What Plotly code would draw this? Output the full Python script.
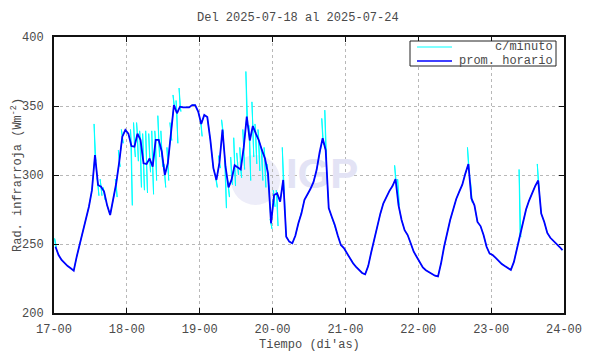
import plotly.graph_objects as go

# ---------------- data ----------------
tick_labels = ["17-00", "18-00", "19-00", "20-00", "21-00", "22-00", "23-00", "24-00"]
y_ticks = [200, 250, 300, 350, 400]

# hourly means (prom. horario), one value per hour from 17-00 to 24-00
hourly_17 = [248, 242, 238.4, 236, 234, 232.4, 230.7, 241, 250.5, 259, 267.4, 277,
             289, 314.5, 292.8, 291.5, 288, 278, 271, 282, 294, 309.7, 327.8, 332.6]
hourly_18 = [330, 321, 320.5, 330, 325.4, 308.5, 308, 312, 306, 325.4, 325.4, 317,
             300, 308.5, 330, 350.7, 344.7, 349.5, 349, 349, 349, 350.7, 350.7, 346]
hourly_19 = [337, 343.5, 342, 325.4, 305, 296.4, 309, 333, 306, 291, 296.6, 307,
             305.6, 304, 320, 342.3, 325, 335.5, 330, 325, 318, 312, 301, 265]
hourly_20 = [285.5, 286.7, 280.7, 296.4, 255.3, 251.7, 250.5, 256, 265, 272, 282, 285.5,
             290, 295, 303.6, 316.5, 326.6, 318, 276, 269.8, 263.8, 256, 249.3, 247]
hourly_21 = [243, 239.5, 236, 233.5, 231.5, 229, 228, 234, 244, 254, 263, 272,
             279.5, 284.5, 288.5, 292, 297, 278, 267.4, 260, 256.5, 250.5, 244.4, 240.6]
hourly_22 = [237, 233, 231, 229.5, 228, 227, 226.5, 236, 248, 259, 267.4, 275,
             282.6, 288, 293, 301, 308, 283, 278, 266, 263, 256.5, 248, 243]
hourly_23 = [242, 240, 237.5, 235.5, 234, 232.5, 231.2, 237, 247, 257, 266.5, 275,
             281.5, 287, 292, 296, 272, 266, 258, 254.5, 252.5, 250, 248, 245.5]

# per-minute excursions (c/minuto): hour index, highest and lowest minute value
spike_hour = [0, 13, 14, 15, 16, 20, 21, 22, 25, 26, 27, 28, 29, 30, 31, 32, 33, 34,
              35, 36, 37, 38, 39, 40, 41, 48, 53, 54, 55, 56, 57, 58, 59, 60, 61, 62,
              63, 64, 65, 66, 67, 68, 69, 70, 71, 72, 73, 75, 88, 89, 112, 113, 136,
              137, 153, 159]
spike_hi = [254, 337, 298, 297, 291, 297, 318, 333, 333, 338, 338, 332, 330, 332, 330,
            332, 332, 343, 332, 308, 320, 338, 358, 354, 363, 340, 298, 314, 340, 311,
            296, 313, 327, 316, 320, 333, 375, 336, 353, 337, 333, 320, 320, 308, 268,
            289, 289, 320, 341, 347, 307, 297, 320, 295, 304, 308]
spike_lo = [248, 310, 285, 285, 282, 284, 306, 323, 278, 313, 310, 291, 289, 287, 302,
            286, 296, 313, 306, 291, 296, 325, 348, 323, 346, 328, 291, 305, 330, 276,
            284, 293, 292, 300, 298, 304, 338, 296, 313, 308, 303, 296, 291, 289, 261,
            277, 263, 290, 322, 312, 293, 278, 303, 280, 255, 290]

hourly_avg = hourly_17 + hourly_18 + hourly_19 + hourly_20 + hourly_21 + hourly_22 + hourly_23

# ---------------- build traces ----------------
hour_pos = [(k + 0.5) / 24.0 for k in range(len(hourly_avg))]  # hour centres, in days
spikes = {h: (hi, lo) for h, hi, lo in zip(spike_hour, spike_hi, spike_lo)}
dx = 0.3 / 24.0

cx, cy = [], []
for k, (xd, v) in enumerate(zip(hour_pos, hourly_avg)):
    cx.append(xd); cy.append(v)
    if k in spikes:
        hi, lo = spikes[k]
        cx += [xd - dx, xd + dx, xd]
        cy += [hi, lo, v]

FONT = "Liberation Mono, Courier New, monospace"
TXT = "#4a4a4a"

fig = go.Figure()

# watermark text (drawn first so the data lies over it)
fig.add_trace(go.Scatter(x=[3.68], y=[298.5], mode="text", text=["<b>IGP</b>"],
                         textfont=dict(family="Liberation Sans, Arial", size=42, color="#e3e3f5"),
                         hoverinfo="skip", showlegend=False))

fig.add_trace(go.Scatter(x=cx, y=cy, mode="lines", name="c/minuto",
                         line=dict(color="#00ffff", width=1), showlegend=False))
fig.add_trace(go.Scatter(x=hour_pos, y=hourly_avg, mode="lines", name="prom. horario",
                         line=dict(color="#0000ff", width=1.8), showlegend=False))

# page offset of the figure (default body margin) and plot-area box in page pixels
OFF = 8
L, R, T, B = 54, 564, 37, 313
def px(x):
    return (x - L) / (R - L)
def py(y):
    return (B - y) / (B - T)

shapes = [
    # watermark disc
    dict(type="circle", xref="paper", yref="paper", x0=px(231), x1=px(280), y0=py(205), y1=py(155),
         fillcolor="#ededf9", line=dict(width=0), layer="below"),
    # legend box
    dict(type="rect", xref="paper", yref="paper", x0=px(410), x1=px(556), y0=py(66), y1=py(41),
         fillcolor="white", line=dict(color="#222222", width=1), layer="above"),
    dict(type="line", xref="paper", yref="paper", x0=px(417), x1=px(452), y0=py(47), y1=py(47),
         line=dict(color="#00ffff", width=1), layer="above"),
    dict(type="line", xref="paper", yref="paper", x0=px(417), x1=px(452), y0=py(61), y1=py(61),
         line=dict(color="#0000ff", width=1.5), layer="above"),
]

annotations = [
    dict(text="c/minuto", xref="paper", yref="paper", x=px(555), y=py(47), xanchor="right",
         yanchor="middle", showarrow=False, font=dict(family=FONT, size=12, color=TXT)),
    dict(text="prom. horario", xref="paper", yref="paper", x=px(555), y=py(61), xanchor="right",
         yanchor="middle", showarrow=False, font=dict(family=FONT, size=12, color=TXT)),
    dict(text="Rad. infrarroja (Wm<sup>-2</sup>)", xref="paper", yref="paper", x=px(17), y=py(175),
         xanchor="center", yanchor="middle", textangle=-90, showarrow=False,
         font=dict(family=FONT, size=12, color=TXT)),
    dict(text="Tiempo (di'as)", xref="paper", yref="paper", x=px(309), y=py(345),
         xanchor="center", yanchor="middle", showarrow=False,
         font=dict(family=FONT, size=12, color=TXT)),
    dict(text="Del 2025-07-18 al 2025-07-24", xref="paper", yref="paper", x=px(298), y=py(18),
         xanchor="center", yanchor="middle", showarrow=False,
         font=dict(family=FONT, size=12, color=TXT)),
]

fig.update_layout(
    width=590 - OFF, height=354 - OFF,
    margin=dict(l=L - OFF, r=590 - R, t=T - OFF, b=354 - B, autoexpand=False),
    paper_bgcolor="white", plot_bgcolor="white",
    font=dict(family=FONT, size=12, color=TXT),
    showlegend=False,
    shapes=shapes,
    annotations=annotations,
)

fig.update_xaxes(range=[0, 7], tickvals=list(range(len(tick_labels))), ticktext=tick_labels,
                 ticks="inside", ticklen=5, tickcolor="#111111", tickwidth=1,
                 showline=True, linecolor="#111111", linewidth=2, mirror="ticks",
                 showgrid=True, gridcolor="#b8b8b8", griddash="dot", gridwidth=1,
                 zeroline=False, tickfont=dict(family=FONT, size=12, color=TXT),
                 automargin=False, ticklabelstandoff=4)
fig.update_yaxes(range=[200, 400], tickvals=y_ticks,
                 ticks="inside", ticklen=5, tickcolor="#111111", tickwidth=1,
                 showline=True, linecolor="#111111", linewidth=2, mirror="ticks",
                 showgrid=True, gridcolor="#b8b8b8", griddash="dot", gridwidth=1,
                 zeroline=False, tickfont=dict(family=FONT, size=12, color=TXT),
                 automargin=False, ticklabelstandoff=6)

fig.write_html("out.html")
